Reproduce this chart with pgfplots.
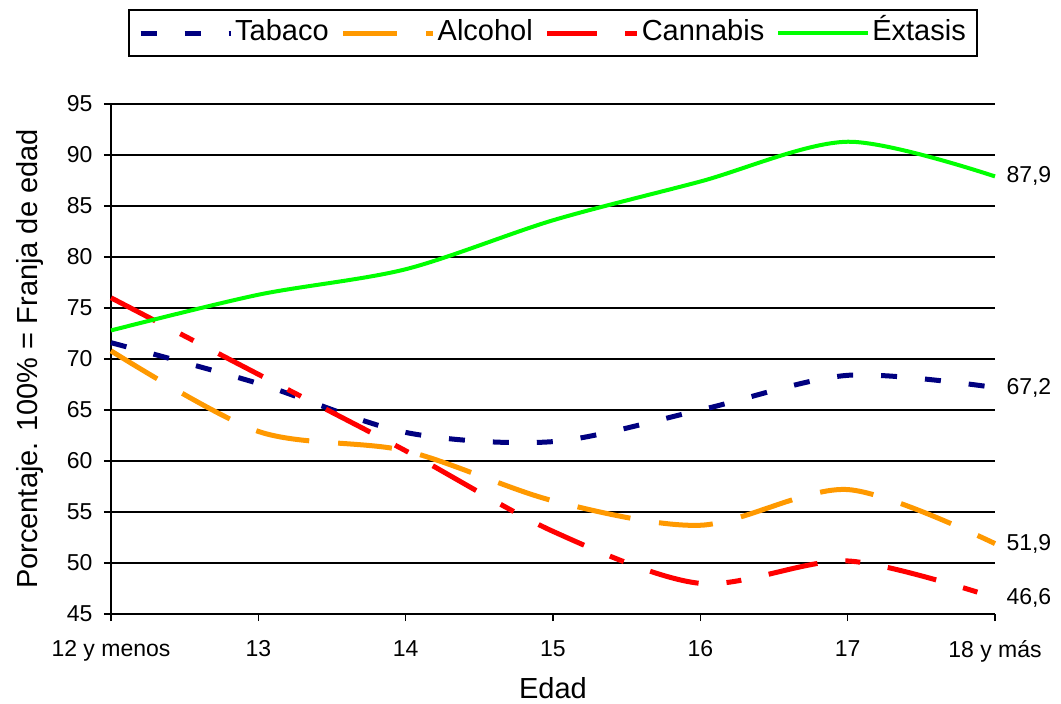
\documentclass[border=0pt]{standalone}
\usepackage{pgfplots}
\pgfplotsset{compat=1.18}
\usepackage{fontspec}
\setmainfont{Liberation Sans}
\definecolor{cTab}{RGB}{0,0,128}
\definecolor{cAlc}{RGB}{255,153,0}
\definecolor{cCan}{RGB}{255,0,0}
\definecolor{cExt}{RGB}{0,255,0}
\newcommand\tfont{\fontsize{23bp}{27bp}\selectfont}
\newcommand\lfont{\fontsize{29bp}{33bp}\selectfont}
\begin{document}
\begin{tikzpicture}
\useasboundingbox (-111bp,-90bp) rectangle (950bp,614bp);
\begin{axis}[
  at={(0,0)}, anchor=south west,
  scale only axis, width=884bp, height=510bp,
  xmin=0, xmax=6, ymin=45, ymax=95,
  xtick={0,...,6},
  xticklabels={12 y menos,13,14,15,16,17,18 y más},
  ytick={45,50,...,95},
  axis lines*=left,
  axis line style={black, line width=1.5bp},
  ymajorgrids, grid style={black, line width=1.5bp},
  tick align=outside, major tick length=7bp,
  tick style={black, line width=1.5bp},
  /pgf/number format/assume math mode=true,
  ticklabel style={font=\tfont},
  xticklabel style={yshift=-16bp},
  yticklabel style={xshift=-8bp},
  xlabel={Edad}, ylabel={Porcentaje. 100\% = Franja de edad},
  label style={font=\lfont},
  xlabel style={at={(axis description cs:0.5,-0.145)}, anchor=center, inner sep=0pt},
  ylabel style={at={(axis description cs:-0.0916,0.5)}, anchor=center, inner sep=0pt},
  clip=false,
  legend columns=4,
  legend style={at={(0.5,1)}, anchor=south, yshift=47bp,
    draw=black, line width=1.5bp, font=\lfont,
    inner xsep=9bp, inner ysep=5bp,
    nodes={inner xsep=2bp, inner ysep=4bp, text height=21bp, text depth=7bp},
    /tikz/every even column/.append style={column sep=10bp}},
  legend cell align=left,
  legend image code/.code={\draw[#1] (0bp,0bp) -- (90bp,0bp);},
  every axis plot/.append style={line width=5bp, smooth, tension=0.5},
]
\addplot[cTab, dash pattern=on 16bp off 28bp] coordinates {
 (0,71.6) (1,67.6) (2,62.8) (3,61.9) (4,65.0) (5,68.4) (6,67.2)};
\addlegendentry{Tabaco}
\addplot[cAlc, dash pattern=on 54bp off 29bp] coordinates {
 (0,70.8) (1,62.9) (2,61.0) (3,56.1) (4,53.7) (5,57.2) (6,51.9)};
\addlegendentry{Alcohol}
\addplot[cCan, dash pattern=on 50bp off 28bp on 15bp off 28bp] coordinates {
 (0,76.0) (1,68.5) (2,61.0) (3,53.1) (4,48.0) (5,50.2) (6,46.6)};
\addlegendentry{Cannabis}
\addplot[cExt, line width=4bp] coordinates {
 (0,72.8) (1,76.3) (2,78.8) (3,83.6) (4,87.4) (5,91.3) (6,87.9)};
\addlegendentry{Éxtasis}
\node[anchor=west, font=\tfont, xshift=8bp] at (axis cs:6,87.9) {87,9};
\node[anchor=west, font=\tfont, xshift=8bp] at (axis cs:6,67.2) {67,2};
\node[anchor=west, font=\tfont, xshift=8bp] at (axis cs:6,51.9) {51,9};
\node[anchor=west, font=\tfont, xshift=8bp] at (axis cs:6,46.6) {46,6};
\end{axis}
\end{tikzpicture}
\end{document}
